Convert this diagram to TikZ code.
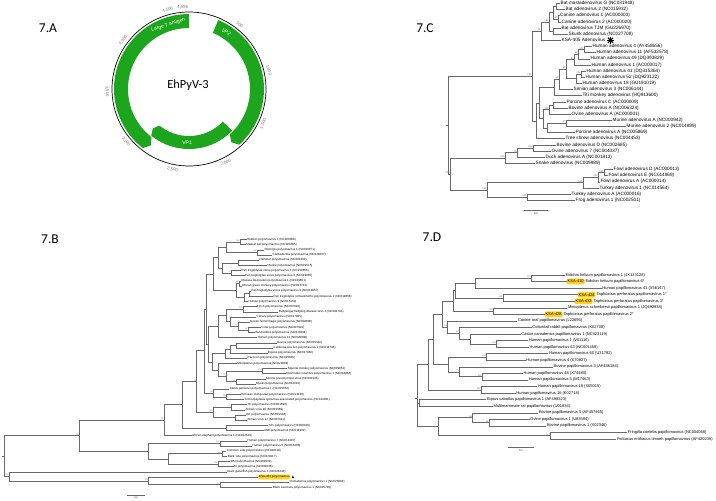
\documentclass[tikz,border=0pt]{standalone}
\usepackage{fontspec}
\setmainfont{Liberation Sans}
\newfontfamily\calib{Carlito}
\usetikzlibrary{calc}
\definecolor{pgreen}{RGB}{30,165,30}
\definecolor{brc}{RGB}{105,105,105}
\definecolor{hly}{RGB}{255,208,30}
\definecolor{numc}{RGB}{120,120,120}
\newcommand\Lf[5]{\node[lbl] (#1) at (#3,#4) {#5};\draw[br] (#2) |- (#1.west);}
\newcommand\In[4]{\coordinate (#1) at (#3,#4);\draw[br] (#2) |- (#1);}
\newcommand\Hl[6]{\node[hlb] (#1) at (#3,#4) {#5};\draw[br] (#2) |- (#1.west);\node[lbl] at (#1.east) {#6};}
\newcommand\Bs[2]{\node[bs] at (#1) {#2};}
\begin{document}
\begin{tikzpicture}[x=1pt,y=-1pt,
 br/.style={draw=brc,line width=0.45pt},
 head/.style={font=\calib\fontsize{13.5}{15}\selectfont,inner sep=0pt},
 nlab/.style={font=\fontsize{4.3}{5}\selectfont,text=numc,inner sep=0pt},
 rlab/.style={font=\fontsize{5}{6}\selectfont,text=white,inner sep=0pt}]
\useasboundingbox (0,0) rectangle (716,501);
\fill[white] (0,0) rectangle (716,501);

% ---------- headings ----------
\node[head] (hA) at (48,28) {7.A};
\node[head] (hC) at (425,28) {7.C};
\node[head] (hB) at (50,239) {7.B};
\node[head] (hD) at (432,237) {7.D};

% ---------- 7.A plasmid map ----------
\coordinate (pc) at (189,89);
\fill[pgreen] plot[domain=128:270,samples=60] ({189+75*cos(\x)},{89+75*sin(\x)})
  -- plot[domain=270:128,samples=60] ({189+61*cos(\x)},{89+61*sin(\x)})
  -- ({189+68*cos(124)},{89+68*sin(124)}) -- cycle;
\fill[pgreen] plot[domain=-67:48,samples=60] ({189+75*cos(\x)},{89+75*sin(\x)})
  -- ({189+68*cos(51.5)},{89+68*sin(51.5)})
  -- plot[domain=48:-67,samples=60] ({189+61*cos(\x)},{89+61*sin(\x)}) -- cycle;
\fill[pgreen] plot[domain=44:129,samples=60] ({189+60*cos(\x)},{89+60*sin(\x)})
  -- ({189+53.5*cos(132.5)},{89+53.5*sin(132.5)})
  -- plot[domain=129:44,samples=60] ({189+47*cos(\x)},{89+47*sin(\x)}) -- cycle;
\draw[line width=0.7pt] (pc) circle[radius=77];
\node[rlab,rotate=17.9] (lt) at ({189+67.5*cos(-107.9)},{89+67.5*sin(-107.9)}) {Large T antigen};
\node[rlab,rotate=-33.3] (vp2) at ({189+68*cos(-56.7)},{89+68*sin(-56.7)}) {VP2};
\node[rlab,rotate=-2] (vp1) at ({189+53.5*cos(92)},{89+53.5*sin(92)}) {VP1};
\node[font=\calib\fontsize{12.4}{14}\selectfont] (name) at (188,85) {EhPyV-3};
\node[nlab,rotate=-38.33] at ({189+82*cos(-51.67)},{89+82*sin(-51.67)}) {500};
\node[nlab,rotate=-76.66] at ({189+82*cos(-13.34)},{89+82*sin(-13.34)}) {1,000};
\node[nlab,rotate=65] at ({189+82*cos(24.99)},{89+82*sin(24.99)}) {1,500};
\node[nlab,rotate=26.7] at ({189+82*cos(63.3)},{89+82*sin(63.3)}) {2,000};
\node[nlab,rotate=-11.65] at ({189+82*cos(101.65)},{89+82*sin(101.65)}) {2,500};
\node[nlab,rotate=-49.98] at ({189+82*cos(139.98)},{89+82*sin(139.98)}) {3,000};
\node[nlab,rotate=-88.3] at ({189+82*cos(178.3)},{89+82*sin(178.3)}) {3,500};
\node[nlab,rotate=53.4] at ({189+82*cos(216.6)},{89+82*sin(216.6)}) {4,000};
\node[nlab,rotate=15] at ({189+82*cos(255)},{89+82*sin(255)}) {4,500};
\node[nlab,rotate=4.5] at ({189+82*cos(265.6)},{89+82*sin(265.6)}) {4,696};

% ---------- 7.C adenovirus tree ----------
\begin{scope}[lbl/.style={anchor=west,inner sep=0.5pt,font=\fontsize{4.7}{5}\selectfont},
  bs/.style={anchor=south east,inner sep=0.2pt,font=\fontsize{2.5}{2.6}\selectfont,text=black!60}]
\coordinate (cR) at (448,125);
\draw[br] (446,125) -- (cR);
\In{cM}{cR}{532}{76}
\In{cR2}{cR}{450}{173.9}
\In{cU}{cM}{541}{31.1}
\In{cY}{cM}{536}{120.9}
\In{cG}{cU}{549}{21.9}
\In{cBC}{cG}{553}{12.6}
\In{cTS}{cG}{553}{31.1}
\In{cBat}{cBC}{556}{6.5}
\In{cCan}{cBC}{558}{18.8}
\In{cX}{cY}{539}{103.1}
\In{cH8}{cX}{554}{87.5}
\In{cUng}{cX}{543}{118.7}
\In{cH7}{cH8}{559}{79.3}
\In{cH6}{cH7}{566}{69.1}
\In{cH3}{cH6}{574}{59.5}
\In{cH5}{cH6}{576}{78.7}
\In{cH2}{cH3}{578}{54.1}
\In{cH1}{cH2}{584}{49.5}
\In{cH4}{cH5}{581}{74.1}
\In{cPBO}{cUng}{549}{109.5}
\In{cPB}{cPBO}{553}{104.9}
\In{cMMP}{cUng}{547}{127.9}
\In{cMM}{cMMP}{566}{123.3}
\In{cAt}{cR2}{505}{157.9}
\In{cBDO}{cAt}{517}{152.5}
\In{cBD}{cBDO}{533}{147.9}
\In{cAv}{cR2}{487}{189.8}
\In{cFT}{cAv}{583}{182.5}
\In{cFDEA}{cFT}{598}{177.1}
\In{cFDE}{cFDEA}{604}{172.5}
\In{cTF}{cAv}{527}{197.1}
\Lf{c1}{cBat}{560}{3.4}{Bat mastadenovirus G (NC031948)}
\Lf{c2}{cBat}{565}{9.55}{Bat adenovirus 2 (NC015932)}
\Lf{c3}{cCan}{559.5}{15.7}{Canine adenovirus 1 (AC000003)}
\Lf{c4}{cCan}{561}{21.85}{Canine adenovirus 2 (AC000020)}
\Lf{c5}{cTS}{561}{28}{Bat adenovirus TJM (GU226970)}
\Lf{c6}{cTS}{568}{34.15}{Skunk adenovirus (NC027708)}
\Lf{c7}{cU}{561}{40.3}{KSA-405 Adenovirus}
\Lf{c8}{cH1}{592}{46.45}{Human adenovirus 4 (AY458656)}
\Lf{c9}{cH1}{596}{52.6}{Human adenovirus 11 (AF532578)}
\Lf{c10}{cH2}{590}{58.75}{Human adenovirus 49 (DQ393829)}
\Lf{c11}{cH3}{591}{64.9}{Human adenovirus 1 (AC000017)}
\Lf{c12}{cH4}{586}{71.05}{Human adenovirus 41 (DQ315364)}
\Lf{c13}{cH4}{585}{77.2}{Human adenovirus 52 (DQ923122)}
\Lf{c14}{cH5}{582}{83.35}{Human adenovirus 18 (GU191019)}
\Lf{c15}{cH7}{573}{89.5}{Simian adenovirus 3 (NC006144)}
\Lf{c16}{cH8}{582}{95.65}{Titi monkey adenovirus (HQ913600)}
\Lf{c17}{cPB}{566}{101.8}{Porcine adenovirus C (AC000009)}
\Lf{c18}{cPB}{568}{107.95}{Bovine adenovirus A (NC006324)}
\Lf{c19}{cPBO}{571}{114.1}{Ovine adenovirus A (AC000001)}
\Lf{c20}{cMM}{612}{120.25}{Murine adenovirus A (NC000942)}
\Lf{c21}{cMM}{626}{126.4}{Murine adenovirus 2 (NC014899)}
\Lf{c22}{cMMP}{575}{132.55}{Porcine adenovirus A (NC005869)}
\Lf{c23}{cY}{565}{138.7}{Tree shrew adenovirus (NC004453)}
\Lf{c24}{cBD}{556}{144.85}{Bovine adenovirus D (NC002685)}
\Lf{c25}{cBD}{551}{151}{Ovine adenovirus 7 (NC004037)}
\Lf{c26}{cBDO}{545}{157.15}{Duck adenovirus A (NC001813)}
\Lf{c27}{cAt}{535}{163.3}{Snake adenovirus (NC009989)}
\Lf{c28}{cFDE}{613}{169.45}{Fowl adenovirus D (AC000013)}
\Lf{c29}{cFDE}{608}{175.6}{Fowl adenovirus E (NC014969)}
\Lf{c30}{cFDEA}{600}{181.75}{Fowl adenovirus A (AC000014)}
\Lf{c31}{cFT}{599}{187.9}{Turkey adenovirus 1 (NC014564)}
\Lf{c32}{cTF}{571}{194.05}{Turkey adenovirus A (AC000016)}
\Lf{c33}{cTF}{575}{200.2}{Frog adenovirus 1 (NC002501)}
\coordinate (star) at ($(c7.east)+(4.5,0)$);
\foreach \a in {0,45,90,135}
  \draw[line width=1.1pt] ($(star)+(\a:3.6)$) -- ($(star)+(\a+180:3.6)$);
\Bs{cM}{100}\Bs{cU}{75}\Bs{cG}{100}\Bs{cCan}{100}\Bs{cH1}{100}\Bs{cH2}{90}
\Bs{cH3}{99}\Bs{cH4}{100}\Bs{cH6}{95}\Bs{cH7}{50}\Bs{cPBO}{100}\Bs{cMM}{57}
\Bs{cBD}{100}\Bs{cBDO}{75}\Bs{cAt}{100}\Bs{cFDE}{100}\Bs{cFDEA}{100}
\Bs{cFT}{100}\Bs{cTF}{100}\Bs{cAv}{100}\Bs{cR2}{100}
\coordinate (cs1) at (524,210.7); \coordinate (cs2) at (548,210.7);
\draw[br] (cs1) -- (cs2);
\node[font=\fontsize{2.6}{3}\selectfont,inner sep=0pt] at (536,214) {0.2};
\end{scope}

% ---------- 7.B polyomavirus tree ----------
\begin{scope}[lbl/.style={anchor=west,inner sep=0.4pt,font=\fontsize{3}{3.4}\selectfont},
  hlb/.style={anchor=west,fill=hly,rounded corners=1.5pt,inner xsep=0.8pt,inner ysep=1pt,font=\fontsize{3}{3.4}\selectfont},
  bs/.style={anchor=south east,inner sep=0.2pt,font=\fontsize{2}{2.2}\selectfont,text=black!60}]
\coordinate (bRoot) at (4.3,456);
\draw[br] (1.5,456) -- (bRoot);
\In{bN79p}{bRoot}{79}{435.6}
\In{bN9}{bRoot}{9}{476.3}
\In{bN95}{bN79p}{164}{420.2}
\In{bN148}{bN79p}{148.3}{451.1}
\In{bN182}{bN95}{182.3}{404.7}
\In{bN79}{bN182}{196.7}{381.5}
\In{bSM}{bN182}{226.7}{427.9}
\In{bU}{bN79}{204}{350.5}
\In{bNJB}{bN79}{213}{412.4}
\In{bNJ1}{bNJB}{231}{407.2}
\In{bNB1}{bNJB}{235}{417.6}
\In{bV}{bU}{206}{309.6}
\In{bNAt}{bU}{213.3}{393}
\In{bNBT}{bNAt}{226.7}{396.9}
\In{bNA}{bV}{213.3}{274.1}
\In{bW}{bV}{208.3}{344.1}
\In{bN218}{bNA}{218.3}{257.7}
\In{bNMAP}{bNA}{236}{290.5}
\In{bNEOC}{bN218}{226.7}{247.3}
\In{bN222}{bN218}{222}{268}
\In{bNE1}{bNEOC}{240}{242.1}
\In{bNOC}{bNEOC}{257}{252.4}
\In{bNHM}{bN222}{238}{262.8}
\In{bNP43}{bN222}{231.7}{273.1}
\In{bNMA}{bNMAP}{239.5}{283.4}
\In{bNP}{bNMAP}{244}{297.6}
\In{bNPP}{bNP}{249}{293.7}
\In{bNB12}{bW}{218.3}{326.4}
\In{bN212}{bW}{212}{361.8}
\In{bNBi}{bNB12}{226.7}{315.3}
\In{bNFB}{bNBi}{243}{309.2}
\In{bNCa}{bNBi}{230}{321.5}
\In{bNG}{bNCa}{238}{326}
\In{bNCB}{bNG}{248}{329.8}
\In{bNBCER}{bN212}{225}{353.7}
\In{bNBCE}{bNBCER}{230}{349.2}
\In{bNBC}{bNBCE}{236}{345.3}
\In{bN218b}{bN212}{218.3}{369.8}
\In{bN226}{bN218b}{226}{376.3}
\In{bNSD}{bN226}{262}{371.1}
\In{bNMM}{bN226}{236}{381.4}
\In{bH67}{bN148}{220}{443.4}
\In{bN168}{bN148}{168.3}{458.8}
\In{bVole}{bN168}{222}{453.7}
\In{bWUKI}{bN168}{218}{464}
\In{bNfish}{bN9}{148.3}{480.8}
\In{bTB}{bNfish}{220}{484.6}
\Lf{b0}{bNE1}{247}{239.54}{Eidolon polyomavirus 1 (NC020068)}
\Lf{b1}{bNE1}{245.7}{244.7}{Madcat bat polyomavirus (NC020065)}
\Lf{b2}{bNOC}{264}{249.86}{Otomops polyomavirus 1 (NC020071)}
\Lf{b3}{bNOC}{272}{255.02}{Cardioderma polyomavirus (NC020067)}
\Lf{b4}{bNHM}{259}{260.18}{Hamster polyomavirus (NC001663)}
\Lf{b5}{bNHM}{267}{265.34}{Murine polyomavirus (NC001515)}
\Lf{b6}{bNP43}{241}{270.5}{Pan troglodytes verus polyomavirus 4 (NC019856)}
\Lf{b7}{bNP43}{244.5}{275.66}{Pan troglodytes verus polyomavirus 3 (NC019855)}
\Lf{b8}{bNMA}{241}{280.82}{Macaca fascicularis polyomavirus 1 (NC019851)}
\Lf{b9}{bNMA}{241.5}{285.98}{African green monkey polyomavirus (NC004763)}
\Lf{b10}{bNPP}{250.7}{291.14}{Pan troglodytes verus polyomavirus 5 (NC019857)}
\Lf{b11}{bNPP}{273}{296.3}{Pan troglodytes schweinfurthii polyomavirus 2 (NC019858)}
\Lf{b12}{bNP}{248}{301.46}{Human polyomavirus 9 (NC015150)}
\Lf{b13}{bNFB}{256.5}{306.62}{Finch polyomavirus (NC007923)}
\Lf{b14}{bNFB}{278.3}{311.78}{Budgerigar fledgling disease virus 1 (NC004764)}
\Lf{b15}{bNCa}{256}{316.94}{Canary polyomavirus (NC017085)}
\Lf{b16}{bNG}{249.5}{322.1}{Goose hemorrhagic polyomavirus (NC004800)}
\Lf{b17}{bNCB}{261}{327.26}{Crow polyomavirus (NC007922)}
\Lf{b18}{bNCB}{255}{332.42}{Butcherbird polyomavirus (NC023008)}
\Lf{b19}{bNB12}{257.3}{337.58}{Human polyomavirus 12 (NC020890)}
\Lf{b20}{bNBC}{276.7}{342.74}{Bovine polyomavirus (NC001442)}
\Lf{b21}{bNBC}{273}{347.9}{California sea lion polyomavirus 1 (NC013796)}
\Lf{b22}{bNBCE}{267.5}{353.06}{Equine polyomavirus (NC017982)}
\Lf{b23}{bNBCER}{247}{358.22}{Raccoon polyomavirus (NC023845)}
\Lf{b24}{bN218b}{236.7}{363.38}{Miniopterus polyomavirus (NC023009)}
\Lf{b25}{bNSD}{287.3}{368.54}{Squirrel monkey polyomavirus (NC009951)}
\Lf{b26}{bNSD}{285.7}{373.7}{Desmodus rotundus polyomavirus 1 (NC018854)}
\Lf{b27}{bNMM}{265.5}{378.86}{Murine pneumotropic virus (NC001505)}
\Lf{b28}{bNMM}{255.5}{384.02}{Myotis polyomavirus (NC011310)}
\Lf{b29}{bNAt}{229.3}{389.18}{Ateles paniscus polyomavirus 1 (NC019853)}
\Lf{b30}{bNBT}{241}{394.34}{Bornean orang-utan polyomavirus (NC013439)}
\Lf{b31}{bNBT}{244}{399.5}{Trichodysplasia spinulosa-associated polyomavirus (NC014361)}
\Lf{b32}{bNJ1}{247}{404.66}{JC polyomavirus (NC001699)}
\Lf{b33}{bNJ1}{245}{409.82}{Simian virus 40 (NC001669)}
\Lf{b34}{bNB1}{246}{414.98}{BK polyomavirus (NC001538)}
\Lf{b35}{bNB1}{247}{420.14}{Simian virus 12 (NC007611)}
\Lf{b36}{bSM}{268.3}{425.3}{STL polyomavirus (NC020106)}
\Lf{b37}{bSM}{264}{430.46}{MW polyomavirus (NC018102)}
\Lf{b38}{bN95}{191.5}{435.62}{African elephant polyomavirus 1 (NC022519)}
\Lf{b39}{bH67}{247}{440.78}{Human polyomavirus 7 (NC014407)}
\Lf{b40}{bH67}{252}{445.94}{Human polyomavirus 6 (NC014406)}
\Lf{b41}{bVole}{226.3}{451.1}{Common vole polyomavirus (NC028119)}
\Lf{b42}{bVole}{227.3}{456.26}{Bank vole polyomavirus (NC028117)}
\Lf{b43}{bWUKI}{230.3}{461.42}{WU polyomavirus (NC009539)}
\Lf{b44}{bWUKI}{233.5}{466.58}{KI polyomavirus (NC009238)}
\Lf{b45}{bN9}{226.7}{471.74}{Giant guitarfish polyomavirus 1 (NC026244)}
\node[hlb] (b46) at (258,476.9) {KSA-403 polyomavirus};
\draw[br] (bNfish) |- (b46.west);
\fill ($(b46.east)+(1,1.3)$) -- ($(b46.east)+(3.8,1.3)$) -- ($(b46.east)+(2.4,-1.3)$) -- cycle;
\Lf{b47}{bTB}{289}{482.06}{Trematomus polyomavirus 1 (NC025894)}
\Lf{b48}{bTB}{272.3}{487.22}{Black sea bass polyomavirus 1 (NC025790)}
\Bs{bNE1}{100}\Bs{bNOC}{100}\Bs{bNMA}{100}\Bs{bNFB}{100}\Bs{bNG}{97}\Bs{bNCB}{87}
\Bs{bNSD}{100}\Bs{bNMM}{77}\Bs{bN226}{75}\Bs{bNAt}{80}\Bs{bNBT}{100}\Bs{bNJB}{100}
\Bs{bN79}{79}\Bs{bN95}{95}\Bs{bN79p}{95}\Bs{bH67}{100}\Bs{bVole}{100}\Bs{bWUKI}{100}
\Bs{bTB}{90}\Bs{bNfish}{100}\Bs{bN9}{100}
\coordinate (bs1) at (126.7,495); \coordinate (bs2) at (145,495);
\draw[br] (bs1) -- (bs2);
\node[font=\fontsize{2.4}{3}\selectfont,inner sep=0pt] at (136,497.8) {0.2};
\end{scope}

% ---------- 7.D papillomavirus tree ----------
\begin{scope}[lbl/.style={anchor=west,inner sep=0.5pt,font=\fontsize{4}{4.5}\selectfont},
  hlb/.style={anchor=west,fill=hly,rounded corners=2pt,inner xsep=1pt,inner ysep=1.5pt,font=\fontsize{4}{4.5}\selectfont},
  bs/.style={anchor=south east,inner sep=0.2pt,font=\fontsize{2.3}{2.5}\selectfont,text=black!60}]
\coordinate (dR) at (417.3,398);
\draw[br] (414.5,398) -- (dR);
\In{dC6}{dR}{428.3}{364.5}
\In{dEM}{dR}{419.3}{402.9}
\In{dBF}{dR}{438.3}{426.7}
\In{dC5}{dC6}{433}{339.2}
\In{dH18}{dC6}{481}{389.8}
\In{dC4}{dC5}{442.3}{314}
\In{dG4}{dC5}{448.3}{364.4}
\In{dE4}{dC4}{453.3}{300.9}
\In{dC3}{dC4}{447.3}{327.1}
\In{dE3}{dE4}{455}{290.6}
\In{dT2}{dE4}{493.3}{311.1}
\In{dE2}{dE3}{475.7}{283.2}
\In{dT1}{dE3}{503.3}{298}
\In{dE1}{dE2}{531.7}{278.3}
\In{dC2}{dC3}{459}{333.2}
\In{dC1}{dC2}{470.7}{339}
\In{dH1}{dC1}{496.7}{343.9}
\In{dG1}{dG4}{486.7}{357}
\In{dG2}{dG4}{459.3}{371.8}
\In{dG3}{dG2}{482}{376.7}
\In{dB1}{dBF}{472.3}{417.7}
\In{dB2}{dB1}{489}{422.6}
\In{dBird}{dBF}{550.7}{435.7}
\Lf{d1}{dE1}{565}{275}{Eidolon helvum papillomavirus 1 (JX123128)}
\Hl{d2}{dE1}{566.5}{281.56}{KSA-410}{Eidolon helvum papillomavirus 6*}
\Lf{d3}{dE2}{601.7}{288.12}{Human papillomavirus 41 (X56147)}
\Hl{d4}{dT1}{577.5}{294.68}{KSA-424}{Taphozous perforatus papillomavirus 1*}
\Hl{d5}{dT1}{574.5}{301.24}{KSA-433}{Taphozous perforatus papillomavirus 3*}
\Lf{d6}{dT2}{567.3}{307.8}{Miniopterus schreibersii papillomavirus 1 (JQ692938)}
\Hl{d7}{dT2}{544.5}{314.36}{KSA-428}{Taphozous perforatus papillomavirus 2*}
\Lf{d8}{dC3}{517.3}{320.92}{Canine oral papillomavirus (L22695)}
\Lf{d9}{dC2}{531.7}{327.48}{Cottontail rabbit papillomavirus (K02708)}
\Lf{d10}{dC1}{520.7}{334.04}{Castor canadensis papillomavirus 1 (NC023119)}
\Lf{d11}{dH1}{528.3}{340.6}{Human papillomavirus 1 (V01116)}
\Lf{d12}{dH1}{529}{347.16}{Human papillomavirus 63 (NC001458)}
\Lf{d13}{dG1}{548.3}{353.72}{Human papillomavirus 60 (U31792)}
\Lf{d14}{dG1}{525.7}{360.28}{Human papillomavirus 4 (X70827)}
\Lf{d15}{dG2}{553}{366.84}{Bovine papillomavirus 3 (AF486184)}
\Lf{d16}{dG3}{523}{373.4}{Human papillomavirus 48 (X74480)}
\Lf{d17}{dG3}{528.3}{379.96}{Human papillomavirus 5 (M17463)}
\Lf{d18}{dH18}{537.3}{386.52}{Human papillomavirus 18 (X05015)}
\Lf{d19}{dH18}{515.7}{393.08}{Human papillomavirus 16 (K02718)}
\Lf{d20}{dEM}{486.3}{399.64}{Equus caballus papillomavirus 1 (AF498323)}
\Lf{d21}{dEM}{493}{406.2}{Multimammate rat papillomavirus (U01834)}
\Lf{d22}{dB1}{538.3}{412.76}{Bovine papillomavirus 5 (AF457465)}
\Lf{d23}{dB2}{529.7}{419.32}{Ovine papillomavirus 1 (U83594)}
\Lf{d24}{dB2}{546.3}{425.88}{Bovine papillomavirus 1 (X02346)}
\Lf{d25}{dBird}{627.3}{432.44}{Fringilla coelebs papillomavirus (NC004068)}
\Lf{d26}{dBird}{616.3}{439}{Psittacus erithacus timneh papillomavirus (AF420235)}
\Bs{dE1}{100}\Bs{dT1}{100}\Bs{dT2}{100}\Bs{dC3}{53}\Bs{dC2}{57}\Bs{dH1}{100}
\Bs{dG1}{100}\Bs{dG2}{76}\Bs{dG3}{100}\Bs{dH18}{100}\Bs{dB1}{98}\Bs{dB2}{98}\Bs{dBird}{100}
\coordinate (ds1) at (508.3,447.7); \coordinate (ds2) at (534,447.7);
\draw[br] (ds1) -- (ds2);
\node[font=\fontsize{2.6}{3}\selectfont,inner sep=0pt] at (521,451) {0.1};
\end{scope}
\end{tikzpicture}
\end{document}
